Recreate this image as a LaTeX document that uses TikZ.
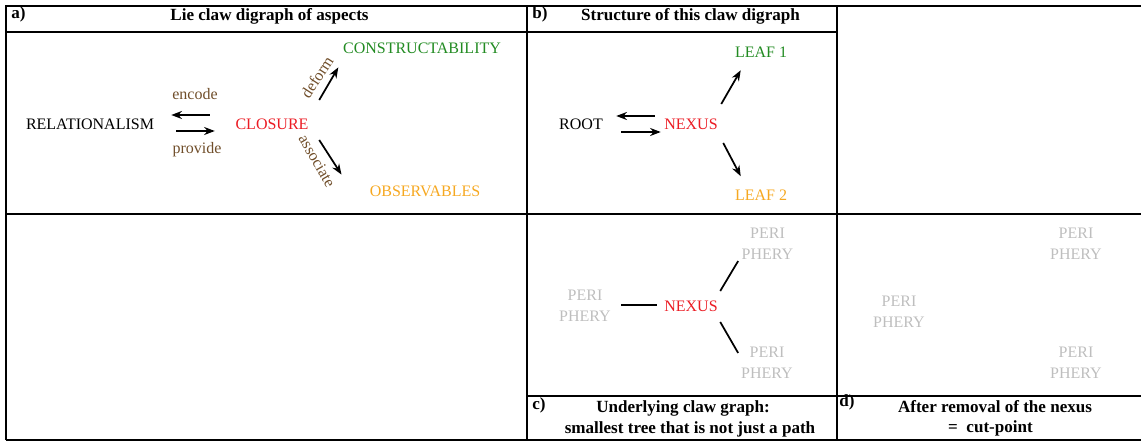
\documentclass[tikz,border=0pt]{standalone}
\usepackage{fontspec}
\setmainfont{Liberation Serif}
\usepackage{tikz}
\usetikzlibrary{arrows.meta, positioning, calc}
\definecolor{closred}{RGB}{235,28,36}
\definecolor{leafgreen}{RGB}{34,139,34}
\definecolor{leaforange}{RGB}{246,168,33}
\definecolor{verbbrown}{RGB}{112,78,42}
\definecolor{perigray}{RGB}{190,190,190}
\tikzstyle{word} = [inner sep=0pt, font=\fontsize{12}{15.75}\selectfont]
\tikzstyle{heading} = [inner sep=0pt, anchor=base, font=\fontsize{12.8}{15.75}\selectfont\bfseries]
\tikzstyle{panel} = [heading, anchor=base west]
\tikzstyle{verblabel} = [word, text=verbbrown]
\tikzstyle{periph} = [word, text=perigray, align=center]
\tikzstyle{tableline} = [line width=1.2pt]
\tikzstyle{arr} = [line width=1.3pt, -{Stealth[length=8pt, width=6pt]}]
\tikzstyle{clawline} = [line width=1.3pt]

\begin{document}
\begin{tikzpicture}[x=0.75pt, y=-0.75pt]
\useasboundingbox (0,0) rectangle (1141,441);
% table
\draw [tableline] (6,440) -- (6,6) -- (1141,6);
\draw [tableline] (6,32) -- (837,32);
\draw [tableline] (6,214) -- (1141,214);
\draw [tableline] (527,396) -- (1141,396);
\draw [tableline] (6,440) -- (1141,440);
\draw [tableline] (527,6) -- (527,440);
\draw [tableline] (837,6) -- (837,440);
% headings
\node (pa) [panel] at (11,19) {a)};
\node (ta) [heading] at (269.5,21) {Lie claw digraph of aspects};
\node (pb) [panel] at (532,19) {b)};
\node (tb) [heading] at (690.5,21) {Structure of this claw digraph};
\node (pc) [panel] at (532,409) {c)};
\node (tc1) [heading] at (683,412) {Underlying claw graph:};
\node (tc2) [heading] at (690,433) {smallest tree that is not just a path};
\node (pd) [panel] at (839,406) {d)};
\node (td1) [heading] at (995,412) {After removal of the nexus};
\node (td2) [heading] at (990.5,432) {=~~cut-point};
% a) aspects
\node (rel) [word] at (90,124) {RELATIONALISM};
\node (clo) [word, text=closred] at (272,124) {CLOSURE};
\node (con) [word, text=leafgreen] at (422,48) {CONSTRUCTABILITY};
\node (obs) [word, text=leaforange] at (425,191) {OBSERVABLES};
\node (enc) [verblabel] at (195,94.5) {encode};
\node (pro) [verblabel] at (197,149.5) {provide};
\node (def) [verblabel, rotate=57] at (317,77) {deform};
\node (ass) [verblabel, rotate=-60] at (317,161) {associate};
\draw [arr] ($(clo.west)+(-25.5,-9)$) -- ($(rel.east)+(17,-9)$);
\draw [arr] ($(rel.east)+(22,7)$) -- ($(clo.west)+(-20.5,7)$);
\draw [arr] ($(clo.east)+(10.5,-24)$) -- ($(con.south west)+(-4.5,13.7)$);
\draw [arr] ($(clo.east)+(10.5,16)$) -- ($(obs.north west)+(-28,-10.7)$);
% b) structure
\node (root) [word] at (581,124) {ROOT};
\node (nex) [word, text=closred] at (691,124) {NEXUS};
\node (leaf1) [word, text=leafgreen] at (761,52) {LEAF 1};
\node (leaf2) [word, text=leaforange] at (761,195.5) {LEAF 2};
\draw [arr] ($(nex.west)+(-9.3,-8)$) -- ($(root.east)+(13.2,-8)$);
\draw [arr] ($(root.east)+(18.2,8)$) -- ($(nex.west)+(-3.3,8)$);
\draw [arr] ($(nex.east)+(3.3,-20)$) -- ($(leaf1.south west)+(6,12.7)$);
\draw [arr] ($(nex.east)+(5.3,19)$) -- ($(leaf2.north west)+(6,-13.7)$);
% c) claw graph
\node (perL) [periph] at (585,305.5) {PERI\\PHERY};
\node (nexC) [word, text=closred] at (691,306) {NEXUS};
\node (perU) [periph] at (767.5,244) {PERI\\PHERY};
\node (perD) [periph] at (767,363) {PERI\\PHERY};
\draw [clawline] ($(perL.east)+(10,-0.5)$) -- ($(nexC.west)+(-7.3,-1)$);
\draw [clawline] ($(nexC.east)+(2.3,-15)$) -- ($(perU.west)+(-3.3,17)$);
\draw [clawline] ($(nexC.east)+(2.3,16)$) -- ($(perD.west)+(-2.8,-10)$);
% d) nexus removed
\node (perU2) [periph] at (1076,244) {PERI\\PHERY};
\node (perL2) [periph] at (899,311.5) {PERI\\PHERY};
\node (perD2) [periph] at (1076,363) {PERI\\PHERY};
\end{tikzpicture}
\end{document}
